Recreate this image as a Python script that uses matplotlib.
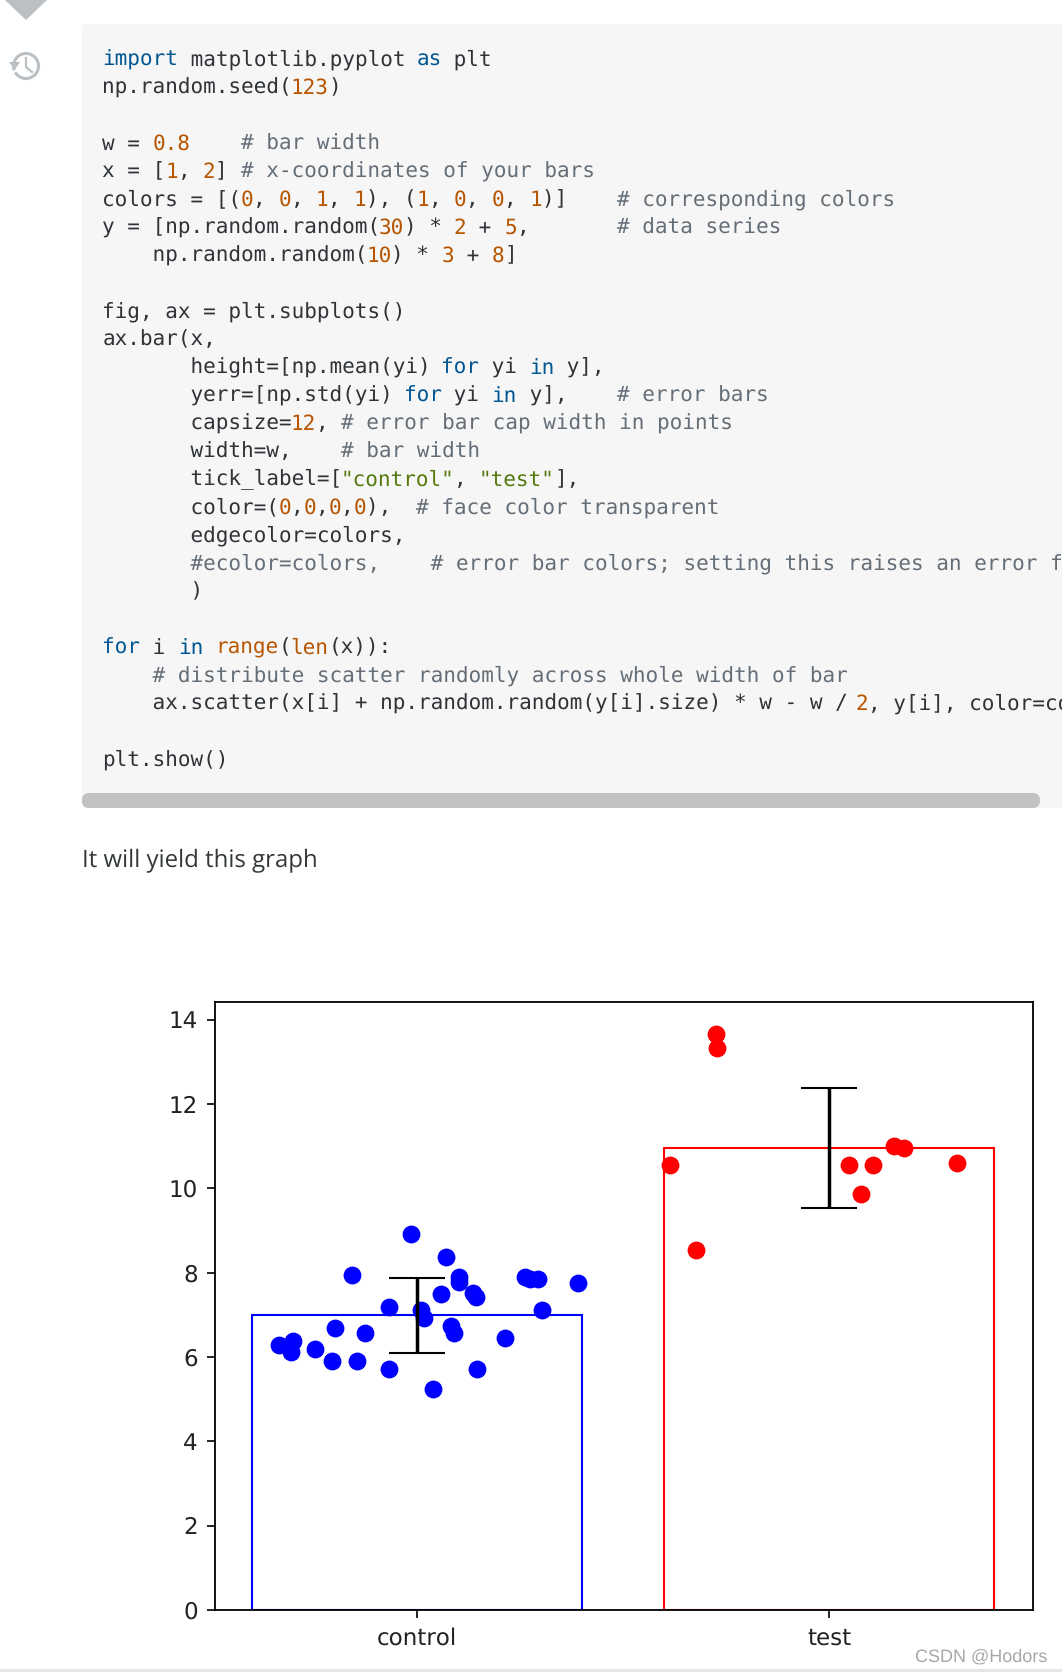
import matplotlib
matplotlib.use("Agg")
import matplotlib.pyplot as plt
from matplotlib.patches import Rectangle, Polygon, FancyBboxPatch, Arc

plt.rcParams["text.hinting"] = "no_hinting"
plt.rcParams["text.hinting_factor"] = 1

# ---------- chart data ----------
categories = ["control", "test"]
bar_x = [1, 2]
bar_heights = [6.985, 10.965]
bar_errors = [0.88, 1.42]
bar_colors = ["#0000ff", "#ff0000"]
y_ticks = [0, 2, 4, 6, 8, 10, 12, 14]

control_x = [0.986, 1.070, 0.842, 1.103, 1.103, 1.263, 1.275, 1.295, 1.390, 1.058,
             1.136, 1.143, 0.934, 1.010, 1.303, 1.018, 0.803, 1.082, 1.090, 0.874,
             0.699, 0.665, 0.695, 0.754, 1.214, 0.794, 0.855, 0.934, 1.146, 1.039]
control_y = [8.917, 8.364, 7.937, 7.905, 7.779, 7.897, 7.858, 7.858, 7.747, 7.502,
             7.510, 7.431, 7.194, 7.115, 7.115, 6.917, 6.688, 6.735, 6.561, 6.569,
             6.379, 6.292, 6.126, 6.182, 6.451, 5.897, 5.897, 5.708, 5.708, 5.241]
test_x = [1.726, 1.729, 1.614, 2.049, 2.106, 2.158, 2.182, 2.309, 2.078, 1.678]
test_y = [13.66, 13.336, 10.561, 10.561, 10.561, 11.004, 10.957, 10.601, 9.858, 8.530]

# ---------- code listing shown above the chart ----------
K, N, S, C, T = "#015692", "#b75501", "#54790d", "#656e77", "#2f3337"
code_lines = [
    [("import", K), (" matplotlib.pyplot ", T), ("as", K), (" plt", T)],
    [("np.random.seed(", T), ("123", N), (")", T)],
    [],
    [("w = ", T), ("0.8", N), ("    ", T), ("# bar width", C)],
    [("x = [", T), ("1", N), (", ", T), ("2", N), ("] ", T), ("# x-coordinates of your bars", C)],
    [("colors = [(", T), ("0", N), (", ", T), ("0", N), (", ", T), ("1", N), (", ", T), ("1", N),
     ("), (", T), ("1", N), (", ", T), ("0", N), (", ", T), ("0", N), (", ", T), ("1", N), (")]    ", T),
     ("# corresponding colors", C)],
    [("y = [np.random.random(", T), ("30", N), (") * ", T), ("2", N), (" + ", T), ("5", N), (",       ", T),
     ("# data series", C)],
    [("    np.random.random(", T), ("10", N), (") * ", T), ("3", N), (" + ", T), ("8", N), ("]", T)],
    [],
    [("fig, ax = plt.subplots()", T)],
    [("ax.bar(x,", T)],
    [("       height=[np.mean(yi) ", T), ("for", K), (" yi ", T), ("in", K), (" y],", T)],
    [("       yerr=[np.std(yi) ", T), ("for", K), (" yi ", T), ("in", K), (" y],    ", T), ("# error bars", C)],
    [("       capsize=", T), ("12", N), (", ", T), ("# error bar cap width in points", C)],
    [("       width=w,    ", T), ("# bar width", C)],
    [("       tick_label=[", T), ('"control"', S), (", ", T), ('"test"', S), ("],", T)],
    [("       color=(", T), ("0", N), (",", T), ("0", N), (",", T), ("0", N), (",", T), ("0", N), ("),  ", T),
     ("# face color transparent", C)],
    [("       edgecolor=colors,", T)],
    [("       #ecolor=colors,    # error bar colors; setting this raises an error fo", C)],
    [("       )", T)],
    [],
    [("for", K), (" i ", T), ("in", K), (" ", T), ("range", N), ("(", T), ("len", N), ("(x)):", T)],
    [("    # distribute scatter randomly across whole width of bar", C)],
    [("    ax.scatter(x[i] + np.random.random(y[i].size) * w - w / ", T), ("2", N), (", y[i], color=co", T)],
    [],
    [("plt.show()", T)],
]
caption = "It will yield this graph"
watermark = "CSDN @Hodors"

W, H = 1062, 1672
fig = plt.figure(figsize=(W / 100, H / 100), dpi=100, facecolor="white")

# page layer in pixel coordinates
page = fig.add_axes([0, 0, 1, 1], zorder=0)
page.set_xlim(0, W)
page.set_ylim(H, 0)
page.axis("off")

page.add_patch(Polygon([(5, 0), (47, 0), (26, 20)], closed=True, fc="#bbc0c4", ec="none"))
page.add_patch(Arc((26, 66), 25, 25, theta1=-200, theta2=150, ec="#bbc0c4", lw=2.2))
page.add_patch(Polygon([(9, 62), (20, 62), (14.5, 70)], closed=True, fc="#bbc0c4", ec="none"))
page.plot([26, 26, 32], [58, 67, 72], color="#bbc0c4", lw=1.6)

page.add_patch(FancyBboxPatch((82, 24), W, 784, boxstyle="round,pad=0,rounding_size=5",
                              fc="#f6f6f6", ec="none"))
page.add_patch(FancyBboxPatch((82, 793), 958, 15, boxstyle="round,pad=0,rounding_size=7",
                              fc="#c2c2c2", ec="none"))

char_w = 12.55
for i, tokens in enumerate(code_lines):
    col = 0
    for text, color in tokens:
        page.text(102.5 + col * char_w, 65.5 + 28.0 * i, text, color=color, va="baseline", ha="left",
                  family="DejaVu Sans Mono", fontsize=15.0)
        col += len(text)

page.text(82, 867, caption, color="#33383b", family="Open Sans", fontsize=17.0, va="baseline", ha="left")
page.add_patch(Rectangle((0, 1669), W, 3, fc="#e4e6e8", ec="none"))

# chart
ax = fig.add_axes([215 / W, (H - 1610) / H, (1033 - 215) / W, 608 / H], zorder=1)
ax.set_facecolor("white")
ax.bar(bar_x, bar_heights, width=0.8, yerr=bar_errors, tick_label=categories, color=(0, 0, 0, 0),
       edgecolor=bar_colors, linewidth=1.5,
       error_kw=dict(ecolor="black", elinewidth=2.5, capsize=20.5, capthick=1.5))
ax.scatter(control_x, control_y, color=bar_colors[0], s=140)
ax.scatter(test_x, test_y, color=bar_colors[1], s=140)
ax.set_xlim(0.511, 2.494)
ax.set_ylim(0, 14.42)
ax.set_yticks(y_ticks)
ax.tick_params(length=5.8, width=1.2, labelsize=16.5, pad=6.5, labelcolor="#222222")
for s in ax.spines.values():
    s.set_linewidth(1.3)

# watermark on top
top = fig.add_axes([0, 0, 1, 1], zorder=2)
top.set_xlim(0, W)
top.set_ylim(H, 0)
top.axis("off")
top.patch.set_alpha(0)
top.text(1047, 1662, watermark, color="#a8a8a8", family="Liberation Sans", fontsize=13.3, ha="right", va="baseline")

fig.savefig("out.png", dpi=100)
